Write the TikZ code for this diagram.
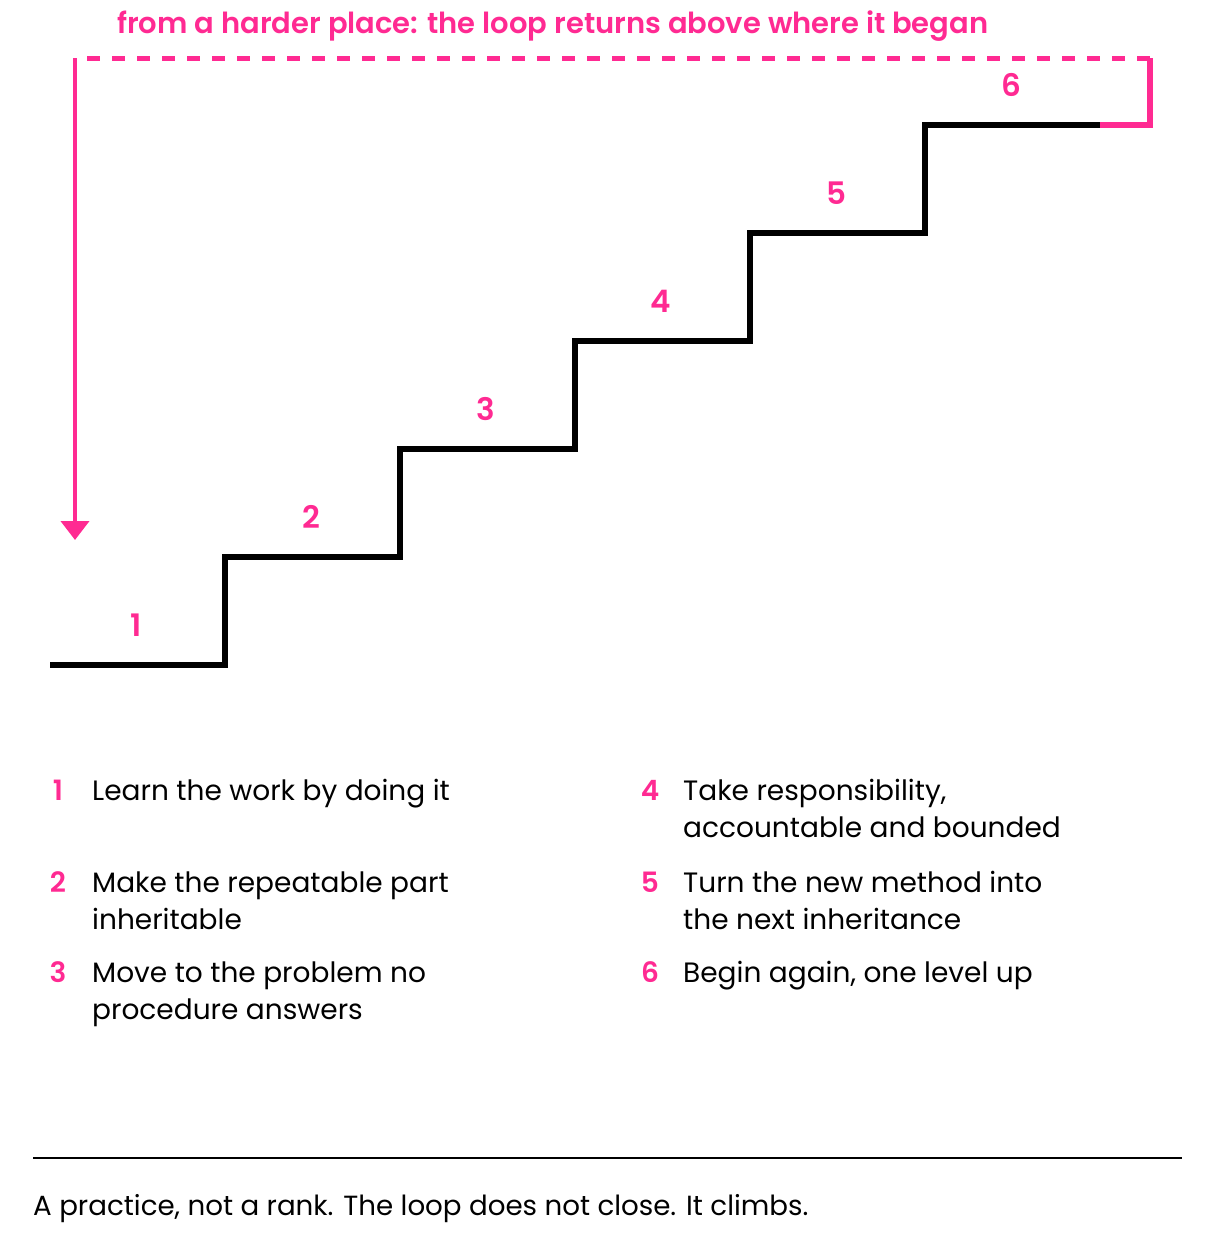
\documentclass[tikz,border=0pt]{standalone}
\usepackage{fontspec}
\setmainfont{Poppins}
\newfontfamily\semib{Poppins SemiBold}
\usetikzlibrary{arrows.meta}
\definecolor{accent}{HTML}{FF2A92}
\begin{document}
\begin{tikzpicture}[x=1pt,y=-1pt,
  stair/.style={line width=6pt, black, line join=miter},
  loopline/.style={line width=5.5pt, accent},
  steplbl/.style={text=accent, font=\fontsize{31}{36}\semib, inner sep=0, anchor=base},
  numlbl/.style={text=accent, font=\fontsize{28}{37}\semib, inner sep=0, anchor=base},
  itemtxt/.style={text=black, font=\fontsize{28}{37}\selectfont, inner sep=0, anchor=base west},
  titletxt/.style={text=accent, font=\fontsize{29}{32}\semib, inner sep=0, anchor=base west},
  foot/.style={text=black, font=\fontsize{27.7}{34}\selectfont, inner sep=0, anchor=base west}]
\useasboundingbox (0,0) rectangle (1216,1250);
% staircase
\coordinate (s0) at (50,665);
\coordinate (s1) at (225,665);
\coordinate (s2) at (225,557);
\coordinate (s3) at (400,557);
\coordinate (s4) at (400,449);
\coordinate (s5) at (575,449);
\coordinate (s6) at (575,341);
\coordinate (s7) at (750,341);
\coordinate (s8) at (750,233);
\coordinate (s9) at (925,233);
\coordinate (s10) at (925,125);
\coordinate (s11) at (1100,125);
\coordinate (c1) at (1150,125);
\coordinate (c2) at (1150,58);
\coordinate (d0) at (87,58);
\coordinate (a0) at (75,58);
\coordinate (a1) at (75,540);
\draw[stair] (s0) -- (s1) -- (s2) -- (s3) -- (s4) -- (s5) -- (s6) -- (s7) -- (s8) -- (s9) -- (s10) -- (s11);
\draw[loopline, line join=miter] (s11) -- (c1) -- (c2);
\draw[accent, line width=5pt, dash pattern=on 12.7pt off 12.3pt] (d0) -- (c2);
\draw[accent, line width=4pt, -{Triangle[width=28pt,length=19pt]}] (a0) -- (a1);
% step labels
\node[steplbl] (n1) at (136,636) {1};
\node[steplbl] (n2) at (311,528) {2};
\node[steplbl] (n3) at (486,420) {3};
\node[steplbl] (n4) at (661,312) {4};
\node[steplbl] (n5) at (836,204) {5};
\node[steplbl] (n6) at (1011,96) {6};
% title
\node[titletxt] (title) at (117,33) {from a harder place: the loop returns above where it began};
% list
\node[numlbl] (k1) at (58,800) {1};
\node[itemtxt] (t1) at (92,800) {Learn the work by doing it};
\node[numlbl] (k2) at (58,892) {2};
\node[itemtxt] (t2) at (92,892) {\begin{tabular}[t]{@{}l@{}}Make the repeatable part\\inheritable\end{tabular}};
\node[numlbl] (k3) at (58,982) {3};
\node[itemtxt] (t3) at (92,982) {\begin{tabular}[t]{@{}l@{}}Move to the problem no\\procedure answers\end{tabular}};
\node[numlbl] (k4) at (650,800) {4};
\node[itemtxt] (t4) at (683,800) {\begin{tabular}[t]{@{}l@{}}Take responsibility,\\accountable and bounded\end{tabular}};
\node[numlbl] (k5) at (650,892) {5};
\node[itemtxt] (t5) at (683,892) {\begin{tabular}[t]{@{}l@{}}Turn the new method into\\the next inheritance\end{tabular}};
\node[numlbl] (k6) at (650,982) {6};
\node[itemtxt] (t6) at (683,982) {Begin again, one level up};
% footer
\coordinate (r0) at (33,1158);
\coordinate (r1) at (1182,1158);
\draw[line width=2pt, black] (r0) -- (r1);
\node[foot] (ft) at (33,1215) {A practice, not a rank. The loop does not close. It climbs.};
\end{tikzpicture}
\end{document}
